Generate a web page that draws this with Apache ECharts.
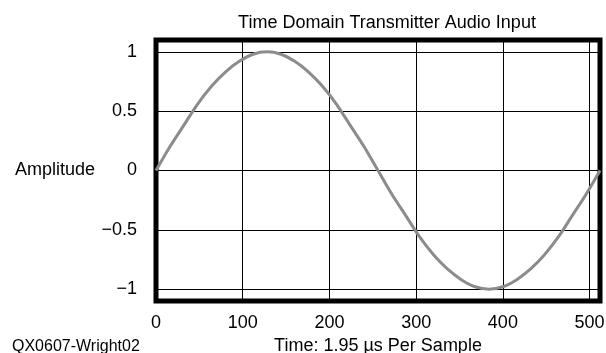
<!DOCTYPE html>
<html>
<head>
<meta charset="utf-8">
<script src="https://cdn.jsdelivr.net/npm/echarts@6/dist/echarts.min.js"></script>
<style>
html,body{margin:0;padding:0;background:#fff;}
#chart{width:606px;height:353px;}
</style>
</head>
<body>
<div id="chart"></div>
<script>
// Sample index (x) and amplitude (y)
const sampleIdx = [0,16,32,48,64,80,96,112,128,144,160,176,192,208,224,240,256,272,288,304,320,336,352,368,384,400,416,432,448,464,480,496,512];
const amplitude = [0,0.2,0.38,0.56,0.71,0.83,0.92,0.98,1,0.98,0.92,0.83,0.71,0.56,0.38,0.2,0,-0.2,-0.38,-0.56,-0.71,-0.83,-0.92,-0.98,-1,-0.98,-0.92,-0.83,-0.71,-0.56,-0.38,-0.2,0];
const yTicks = [-1,-0.5,0,0.5,1];
const xTicks = [0,100,200,300,400,500];

const FONT = 'Liberation Sans, Arial, sans-serif';
const chart = echarts.init(document.getElementById('chart'));
chart.setOption({
  animation: false,
  backgroundColor: '#fff',
  title: {
    text: 'Time Domain Transmitter Audio Input',
    left: 382, top: 9, textAlign: 'center',
    textStyle: {fontFamily: FONT, fontSize: 18, fontWeight: 'normal', color: '#000'}
  },
  graphic: [{
    type: 'text', left: 12, top: 339,
    style: {text: 'QX0607-Wright02', fontFamily: FONT, fontSize: 16, fill: '#000'}
  }],
  grid: {
    left: 156, right: 6, top: 40, bottom: 52,
    outerBoundsMode: 'none', containLabel: false,
    show: true, borderColor: '#000', borderWidth: 5, backgroundColor: '#fff'
  },
  xAxis: {
    type: 'value', min: 0, max: 512, interval: 100,
    name: 'Time: 1.95 µs Per Sample', nameLocation: 'middle', nameGap: 31,
    nameTextStyle: {fontFamily: FONT, fontSize: 18, color: '#000', lineHeight: 14},
    axisLine: {show: false},
    axisTick: {show: false, customValues: xTicks},
    axisLabel: {margin: 13, fontFamily: FONT, fontSize: 18, color: '#000',
      customValues: xTicks},
    splitLine: {show: true, lineStyle: {color: '#000', width: 1}}
  },
  yAxis: {
    type: 'value', min: -1.1, max: 1.1,
    name: 'Amplitude', nameLocation: 'middle', nameRotate: 0, nameGap: 61,
    nameTextStyle: {fontFamily: FONT, fontSize: 18, color: '#000', padding: [6, 0, 0, 0]},
    axisLine: {show: false},
    axisTick: {show: false, customValues: yTicks},
    axisLabel: {margin: 19, fontFamily: FONT, fontSize: 18, color: '#000',
      padding: [4, 0, 0, 0],
      customValues: yTicks,
      formatter: v => String(v).replace('-', '\u2212')},
    splitLine: {show: true, lineStyle: {color: '#000', width: 1}}
  },
  series: [{
    type: 'line',
    data: sampleIdx.map((x, i) => [x, amplitude[i]]),
    smooth: 0.3,
    showSymbol: false,
    lineStyle: {color: '#8c8c8c', width: 3},
    z: 3
  }]
});
</script>
</body>
</html>
